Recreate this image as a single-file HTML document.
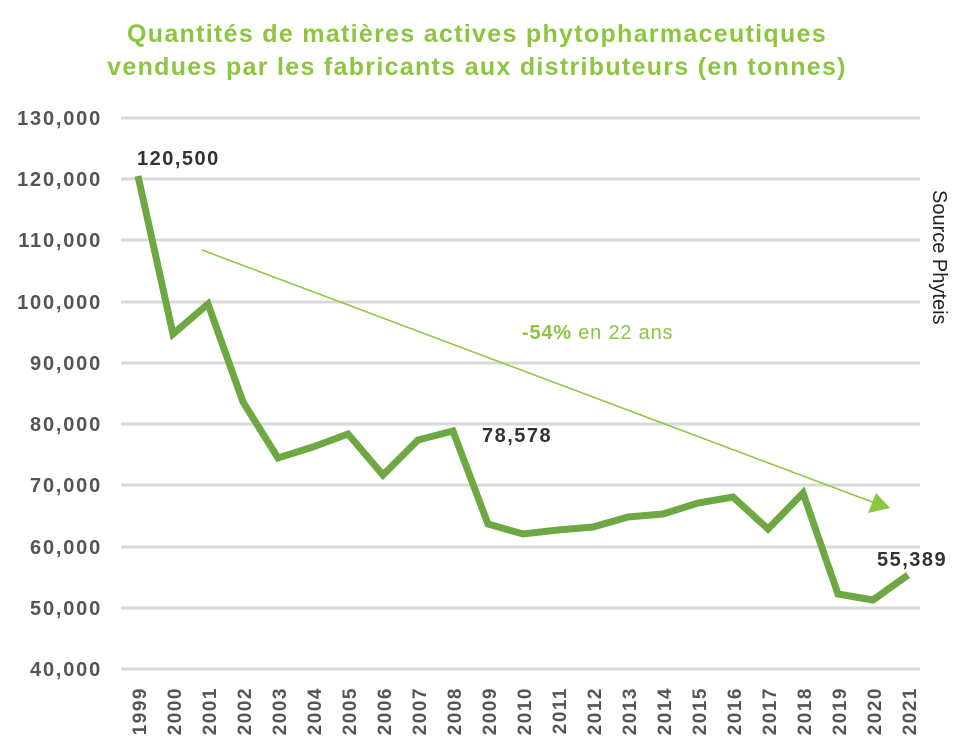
<!DOCTYPE html>
<html><head><meta charset="utf-8"><style>body{margin:0;background:#fff}svg{display:block}</style></head><body>
<svg width="954" height="756" xmlns="http://www.w3.org/2000/svg" font-family="Liberation Sans, sans-serif">
<text x="477" y="42" text-anchor="middle" font-size="25" font-weight="bold" fill="#8cc63f" letter-spacing="1.3">Quantités de matières actives phytopharmaceutiques</text>
<text x="477" y="75" text-anchor="middle" font-size="25" font-weight="bold" fill="#8cc63f" letter-spacing="1.3">vendues par les fabricants aux distributeurs (en tonnes)</text>
<g stroke="#d9d9d9" stroke-width="3">
<line x1="121" x2="920" y1="118" y2="118"/><line x1="121" x2="920" y1="179" y2="179"/><line x1="121" x2="920" y1="240" y2="240"/><line x1="121" x2="920" y1="302" y2="302"/><line x1="121" x2="920" y1="363" y2="363"/><line x1="121" x2="920" y1="424" y2="424"/><line x1="121" x2="920" y1="485" y2="485"/><line x1="121" x2="920" y1="547" y2="547"/><line x1="121" x2="920" y1="608" y2="608"/><line x1="121" x2="920" y1="669" y2="669"/>
</g>
<g font-size="20" font-weight="bold" fill="#555" text-anchor="end" letter-spacing="1.8">
<text x="102" y="125">130,000</text><text x="102" y="186">120,000</text><text x="102" y="247">110,000</text><text x="102" y="309">100,000</text><text x="102" y="370">90,000</text><text x="102" y="431">80,000</text><text x="102" y="492">70,000</text><text x="102" y="554">60,000</text><text x="102" y="615">50,000</text><text x="102" y="676">40,000</text>
</g>
<g font-size="19" font-weight="bold" fill="#555" text-anchor="end" letter-spacing="1.5">
<text transform="translate(146,687) rotate(-90)">1999</text><text transform="translate(181,687) rotate(-90)">2000</text><text transform="translate(216,687) rotate(-90)">2001</text><text transform="translate(251,687) rotate(-90)">2002</text><text transform="translate(286,687) rotate(-90)">2003</text><text transform="translate(321,687) rotate(-90)">2004</text><text transform="translate(356,687) rotate(-90)">2005</text><text transform="translate(391,687) rotate(-90)">2006</text><text transform="translate(426,687) rotate(-90)">2007</text><text transform="translate(461,687) rotate(-90)">2008</text><text transform="translate(496,687) rotate(-90)">2009</text><text transform="translate(531,687) rotate(-90)">2010</text><text transform="translate(566,687) rotate(-90)">2011</text><text transform="translate(601,687) rotate(-90)">2012</text><text transform="translate(636,687) rotate(-90)">2013</text><text transform="translate(671,687) rotate(-90)">2014</text><text transform="translate(706,687) rotate(-90)">2015</text><text transform="translate(741,687) rotate(-90)">2016</text><text transform="translate(776,687) rotate(-90)">2017</text><text transform="translate(811,687) rotate(-90)">2018</text><text transform="translate(846,687) rotate(-90)">2019</text><text transform="translate(881,687) rotate(-90)">2020</text><text transform="translate(916,687) rotate(-90)">2021</text>
</g>
<line x1="202" y1="250" x2="875" y2="503" stroke="#8cc63f" stroke-width="1.5"/>
<polygon points="890,508 868,513 876,493" fill="#8cc63f"/>
<text x="522" y="339" font-size="20" fill="#8cc63f" letter-spacing="0.8"><tspan font-weight="bold">-54%</tspan> en 22 ans</text>
<polyline fill="none" stroke="#6ea843" stroke-width="7" stroke-linejoin="miter" points="138,176 173,334 208,304 243,402 278,458 313,447 348,434 383,475 418,440 453,431 488,524 523,534 558,530 593,527 628,517 663,514 698,503 733,497 768,529 803,493 838,594 873,600 908,575"/>
<g font-size="20" font-weight="bold" fill="#333" letter-spacing="1.5">
<text x="137" y="165">120,500</text>
<text x="482" y="442">78,578</text>
<text x="877" y="566">55,389</text>
</g>
<text transform="translate(933,190) rotate(90)" font-size="20" fill="#222">Source Phyteis</text>
</svg>
</body></html>
